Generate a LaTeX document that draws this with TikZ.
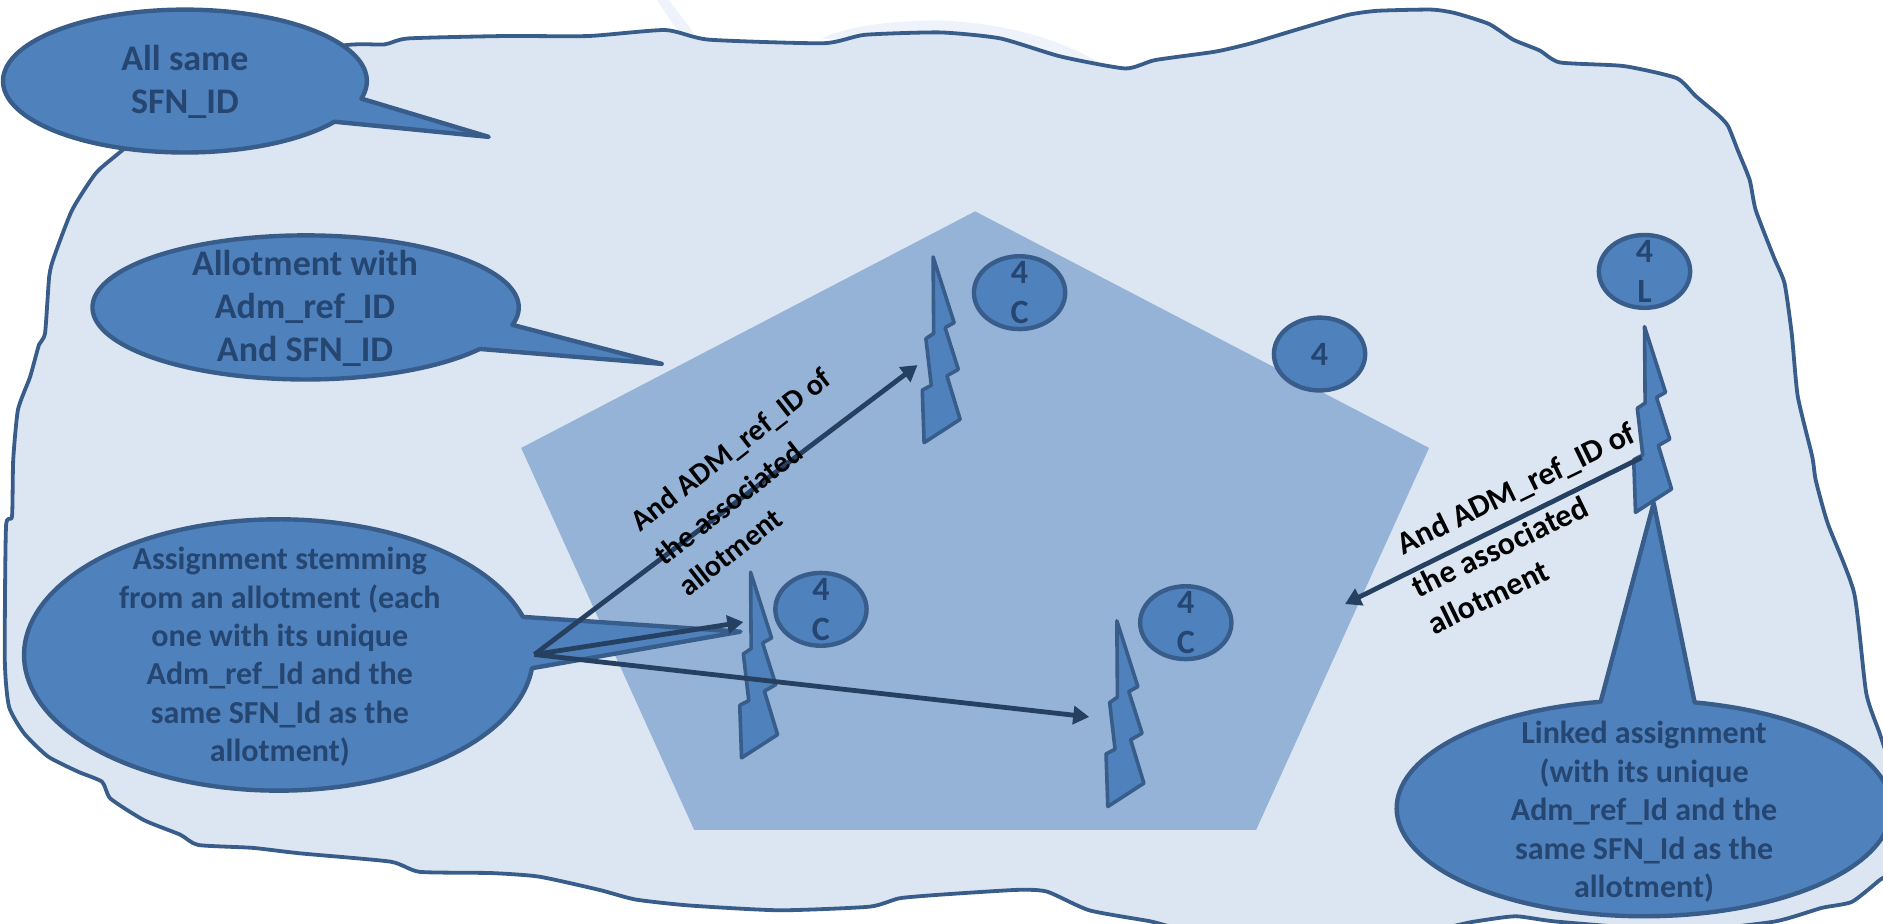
\documentclass[tikz,border=0pt]{standalone}
\usepackage{fontspec}
\setmainfont{Carlito}
\usetikzlibrary{arrows.meta}
\definecolor{blobfill}{HTML}{DCE6F2}
\definecolor{faint}{HTML}{EEF2FA}
\definecolor{penta}{HTML}{95B3D7}
\definecolor{midblue}{HTML}{4F81BD}
\definecolor{edge}{HTML}{385D8A}
\definecolor{dark}{HTML}{254061}
\definecolor{ink}{HTML}{264672}
\tikzset{
  shapeline/.style={fill=midblue,draw=edge,line width=2.2pt,line join=round},
  blobline/.style={fill=blobfill,draw=edge,line width=1.9pt,line join=round},
  inktext/.style={text=ink,font=\bfseries\fontsize{16}{19.2}\selectfont,align=center,inner sep=0pt},
  bigtext/.style={text=ink,font=\bfseries\fontsize{18}{21.4}\selectfont,align=center,inner sep=0pt},
  tiny4/.style={text=ink,font=\bfseries\fontsize{17}{19.8}\selectfont,align=center,inner sep=0pt},
  slanttext/.style={text=black,font=\bfseries\fontsize{15}{17}\selectfont,inner sep=0pt},
  slanttextb/.style={text=black,font=\bfseries\fontsize{16}{17}\selectfont,inner sep=0pt},
  linkarrow/.style={draw=dark,line width=2.4pt,-{Triangle[length=8pt,width=9pt]}},
}
% cx cy rx ry from to tipx tipy
\newcommand\callout[8]{%
  \filldraw[shapeline] plot[domain=#5:#6,samples=140,variable=\t] ({#1+#3*cos(\t)},{#2+#4*sin(\t)}) -- (#7,#8) -- cycle;}
\newcommand\boltshape[3]{%
  \coordinate (#1) at (#2,#3);
  \filldraw[shapeline,line width=1.8pt,shift={(#2,#3)}] (0,0) -- (17.5,54.7) -- (10,58.9) -- (21,93.6) -- (11.5,99) -- (22.5,135.2) -- (-7.5,154.6) -- (-9,110.8) -- (-1.5,106.9) -- (-6,68) -- (0.5,63.6) -- cycle;}
\newcommand\smallring[4]{%
  \filldraw[shapeline] (#2,#3) ellipse [x radius=22.8pt,y radius=18.2pt];
  \node[tiny4] (#1) at (#2,#3) {#4};}
\begin{document}
\begin{tikzpicture}[x=0.6pt,y=-0.6pt]
\useasboundingbox (0,0) rectangle (1568,768.6);
\clip (0,0) rectangle (1568,768.6);
% faint shapes behind the blob
\fill[faint] (547,0) -- (557,0) -- (578,28) -- (566,28) -- cycle;
\fill[faint] (684,32) .. controls (710,20) and (750,17) .. (783,17) .. controls (830,19) and (880,30) .. (918,54) -- cycle;
% blob
\filldraw[blobline] plot[smooth cycle,tension=0.35] coordinates {
(285,38)(320,37)(340,32)(420,30)(490,30)(554,25)(590,33)(686,36)(720,29)(783,27)(833,32)(883,47)(937,57)(962,50)(1012,43)(1042,36)(1082,24)(1122,12.5)(1147,9)(1192,8)(1212,11)(1240,20)(1260,33)(1282,42)(1299,52)(1352,55)(1396,65)(1412,80)(1431,96)(1439,105)(1447,125)(1457,150)(1462,175)(1477,214)(1486,236)(1492,278)(1497,330)(1509,380)(1512,400)(1522,436)(1544,494)(1554,577)(1566,613)(1580,660)(1580,720)(1565,733)(1542,751)(1517,756)(1477,767.5)(1400,775)(1297,767.5)(1262,763)(1227,767.5)(1180,775)(1000,775)(957,767)(907,758)(872,742.5)(847,741)(783,745)(749,748)(724,755)(649,758)(574,754)(529,749)(499,741)(449,730)(409,727)(349.5,726)(325,717.5)(250,710.6)(210,706)(165,703.6)(150,695)(120,683)(92,665)(85,651)(65,642.6)(40,630)(20,610.6)(7.5,588.4)(4,549.6)(5,438.5)(10,430)(11,383)(15,341)(25,314)(32.5,287)(37.5,277.6)(41,230)(45,214)(60,175)(80,144)(102,125)(180,60)};
% pentagon
\fill[penta] (812,176) -- (1190,373) -- (1046,691) -- (578,691) -- (434,373) -- cycle;
% callouts
\callout{154}{67.5}{151.5}{59.5}{34.7}{374.2}{407}{114}
\node[bigtext] (samesfn) at (154,68) {All same\\SFN\_ID};
\callout{254.5}{256}{177.5}{60}{35.2}{374}{551}{303}
\node[bigtext] (allot) at (254,257) {Allotment with\\Adm\_ref\_ID\\And SFN\_ID};
\callout{232}{545.4}{212}{113}{5.6}{343.7}{616.6}{526}
\node[inktext] (assign) at (233,547) {Assignment stemming\\from an allotment (each\\one with its unique\\Adm\_ref\_Id and the\\same SFN\_Id as the\\allotment)};
\callout{1369}{673}{206}{90}{281.8}{619.9}{1377}{419}
\node[inktext] (linked) at (1369,676) {Linked assignment\\(with its unique\\Adm\_ref\_Id and the\\same SFN\_Id as the\\allotment)};
% bolts
\boltshape{btop}{777}{214}
\boltshape{bleft}{625}{476.5}
\boltshape{bmid}{930}{517}
\boltshape{bright}{1369.4}{272}
% small rings
\smallring{ra}{849}{243.7}{4\\C}
\smallring{rb}{1098.8}{294.8}{4}
\smallring{rc}{1369.4}{226}{4\\L}
\smallring{rd}{683.6}{507.4}{4\\C}
\smallring{re}{987.4}{518.5}{4\\C}
% connectors
\coordinate (src) at (445,545);
\coordinate (ttop) at (764,304);
\coordinate (tleft) at (619,518);
\coordinate (tmid) at (907,597);
\coordinate (rsrc) at (1367,381);
\coordinate (rtip) at (1120,503);
\draw[linkarrow] (src) -- (ttop);
\draw[linkarrow] (src) -- (tleft);
\draw[linkarrow] (src) -- (tmid);
\draw[linkarrow] (rsrc) -- (rtip);
% rotated labels
\node[slanttext,rotate=38] (l1) at (609.3,375.5) {And ADM\_ref\_ID of};
\node[slanttext,rotate=38] (l2) at (606.4,419) {the associated};
\node[slanttext,rotate=38] (l3) at (608,459.7) {allotment};
\node[slanttextb,rotate=26] (r1) at (1263,408) {And ADM\_ref\_ID of};
\node[slanttextb,rotate=26] (r2) at (1249,455) {the associated};
\node[slanttextb,rotate=26] (r3) at (1239,497) {allotment};
\end{tikzpicture}
\end{document}
